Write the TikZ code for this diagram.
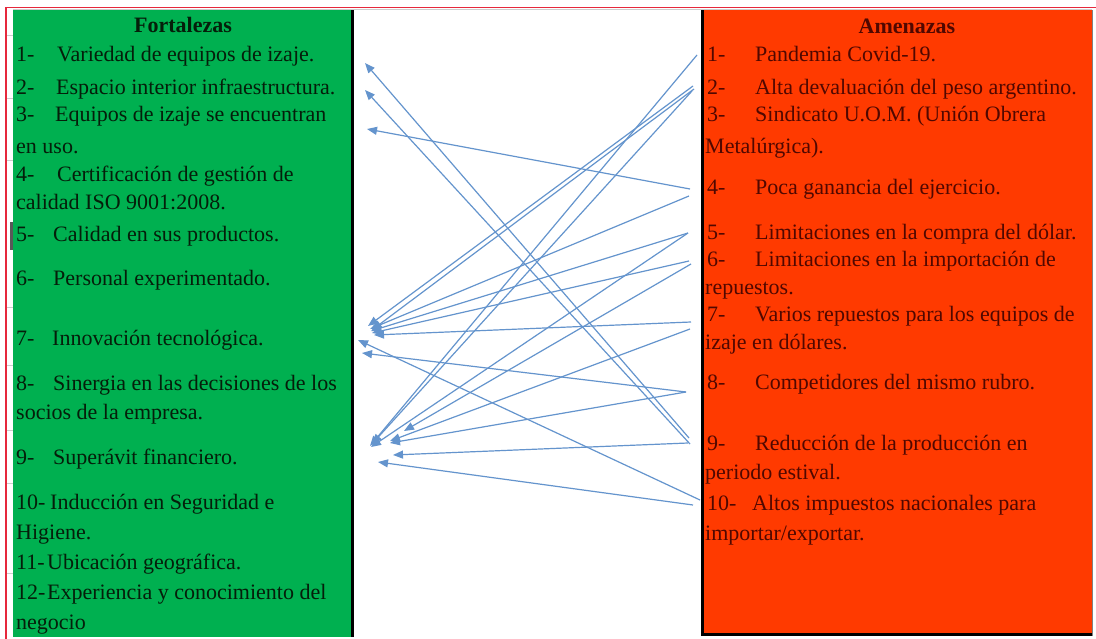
\documentclass[tikz,border=0pt]{standalone}
\usepackage{fontspec}
\setmainfont{Liberation Serif}
\usetikzlibrary{arrows.meta}
\definecolor{fgreen}{RGB}{0,176,80}
\definecolor{fred}{RGB}{255,58,0}
\definecolor{gtext}{RGB}{5,30,10}
\definecolor{rtext}{RGB}{80,8,0}
\definecolor{arrblue}{RGB}{100,148,205}
\definecolor{gridgrey}{RGB}{205,205,205}
\definecolor{edgered}{RGB}{230,40,60}
\begin{document}
\begin{tikzpicture}[x=1pt,y=-1pt,
  lt/.style={anchor=base west,inner sep=0pt,text=gtext,font=\fontsize{22}{26}\selectfont},
  rt/.style={anchor=base west,inner sep=0pt,text=rtext,font=\fontsize{22}{26}\selectfont},
  ttl/.style={anchor=base,inner sep=0pt,font=\fontsize{22}{26}\selectfont\bfseries},
  arr/.style={draw=arrblue,line width=1.2pt,-{Triangle[length=10pt,width=8pt]}},
  tick/.style={draw=gridgrey,line width=0.8pt},
]
\useasboundingbox (0,0) rectangle (1096,639);
\fill[white] (0,0) rectangle (1096,639);
% panels
\fill[fgreen] (13,10) rectangle (351,637);
\fill[fred] (704,10) rectangle (1092,634);
\draw[line width=2.5pt] (352.5,10) -- (352.5,637);
\draw[line width=3pt] (702.5,10) -- (702.5,636);
\draw[line width=2.5pt] (701,634.5) -- (1092,634.5);
\draw[gray,line width=0.6pt] (1092.5,10) -- (1092.5,636);
% sheet edges
\draw[edgered,line width=1.5pt] (6,7.5) -- (1096,7.5);
\draw[edgered,line width=1.2pt] (6,7.5) -- (6,639);
\draw[gridgrey,line width=0.6pt] (13,9.5) -- (1092,9.5);
\foreach \yy in {35,98,160,307,365,430,483,573}{\draw[tick] (7,\yy) -- (13,\yy);}
\fill[gray!70!black] (10,222) rectangle (13,250);
% Fortalezas
\node[ttl,text=gtext] (ftitle) at (183,33) {Fortalezas};
\node[lt] (f1n) at (16,62) {1-};
\node[lt] (f1) at (57,62) {Variedad de equipos de izaje.};
\node[lt] (f2n) at (16,95) {2-};
\node[lt] (f2) at (56,95) {Espacio interior infraestructura.};
\node[lt] (f3n) at (16,122) {3-};
\node[lt] (f3) at (55,122) {Equipos de izaje se encuentran};
\node[lt] (f3b) at (16,154) {en uso.};
\node[lt] (f4n) at (16,182) {4-};
\node[lt] (f4) at (57,182) {Certificación de gestión de};
\node[lt] (f4b) at (16,210) {calidad ISO 9001:2008.};
\node[lt] (f5n) at (16,242) {5-};
\node[lt] (f5) at (53,242) {Calidad en sus productos.};
\node[lt] (f6n) at (16,286) {6-};
\node[lt] (f6) at (53,286) {Personal experimentado.};
\node[lt] (f7n) at (16,345) {7-};
\node[lt] (f7) at (52,345) {Innovación tecnológica.};
\node[lt] (f8n) at (16,390) {8-};
\node[lt] (f8) at (53,390) {Sinergia en las decisiones de los};
\node[lt] (f8b) at (16,419) {socios de la empresa.};
\node[lt] (f9n) at (16,464) {9-};
\node[lt] (f9) at (53,464) {Superávit financiero.};
\node[lt] (f10n) at (16,509) {10-};
\node[lt] (f10) at (50,509) {Inducción en Seguridad e};
\node[lt] (f10b) at (16,539) {Higiene.};
\node[lt] (f11n) at (16,569) {11-};
\node[lt] (f11) at (47,569) {Ubicación geográfica.};
\node[lt] (f12n) at (16,599) {12-};
\node[lt] (f12) at (47,599) {Experiencia y conocimiento del};
\node[lt] (f12b) at (16,629) {negocio};
% Amenazas
\node[ttl,text=rtext] (atitle) at (907,34) {Amenazas};
\node[rt] (a1n) at (707,62) {1-};
\node[rt] (a1) at (755,62) {Pandemia Covid-19.};
\node[rt] (a2n) at (707,95) {2-};
\node[rt] (a2) at (755,95) {Alta devaluación del peso argentino.};
\node[rt] (a3n) at (707,122) {3-};
\node[rt] (a3) at (755,122) {Sindicato U.O.M. (Unión Obrera};
\node[rt] (a3b) at (705,154) {Metalúrgica).};
\node[rt] (a4n) at (707,195) {4-};
\node[rt] (a4) at (755,195) {Poca ganancia del ejercicio.};
\node[rt] (a5n) at (707,240) {5-};
\node[rt] (a5) at (755,240) {Limitaciones en la compra del dólar.};
\node[rt] (a6n) at (707,267) {6-};
\node[rt] (a6) at (755,267) {Limitaciones en la importación de};
\node[rt] (a6b) at (705,295) {repuestos.};
\node[rt] (a7n) at (707,322) {7-};
\node[rt] (a7) at (755,322) {Varios repuestos para los equipos de};
\node[rt] (a7b) at (705,349) {izaje en dólares.};
\node[rt] (a8n) at (707,389) {8-};
\node[rt] (a8) at (755,389) {Competidores del mismo rubro.};
\node[rt] (a9n) at (707,450) {9-};
\node[rt] (a9) at (755,450) {Reducción de la producción en};
\node[rt] (a9b) at (705,479) {periodo estival.};
\node[rt] (a10n) at (707,510) {10-};
\node[rt] (a10) at (752,510) {Altos impuestos nacionales para};
\node[rt] (a10b) at (705,540) {importar/exportar.};
% arrow ends
\coordinate (s1) at (697,55);
\coordinate (s2a) at (693,86);
\coordinate (s2b) at (694,89);
\coordinate (s2c) at (692,91);
\coordinate (s4a) at (690,189);
\coordinate (s4b) at (689,196);
\coordinate (s5) at (688,233);
\coordinate (s6a) at (689,261);
\coordinate (s6b) at (691,264);
\coordinate (s7a) at (691,322);
\coordinate (s7b) at (690,329);
\coordinate (s8) at (686,392);
\coordinate (s9a) at (689,438);
\coordinate (s9b) at (690,444);
\coordinate (s9c) at (688,443);
\coordinate (s10a) at (700,500);
\coordinate (s10b) at (693,505);
\coordinate (t1) at (365,63);
\coordinate (t2) at (365,90);
\coordinate (t3) at (367,129);
\coordinate (t7a) at (368,326);
\coordinate (t7b) at (372,330);
\coordinate (t7c) at (370,329);
\coordinate (t7d) at (371,331);
\coordinate (t7e) at (372,333);
\coordinate (t7f) at (374,335);
\coordinate (t7g) at (358,340);
\coordinate (t8) at (362,353);
\coordinate (t9a) at (370,446);
\coordinate (t9b) at (372,444);
\coordinate (t9c) at (371,447);
\coordinate (t9d) at (404,431);
\coordinate (t9e) at (390,441);
\coordinate (t9f) at (390,443);
\coordinate (t9g) at (393,455);
\coordinate (t9h) at (378,462);
% arrows
\draw[arr] (s1) -- (t9a);
\draw[arr] (s2a) -- (t7a);
\draw[arr] (s2b) -- (t7b);
\draw[arr] (s2c) -- (t9b);
\draw[arr] (s4a) -- (t3);
\draw[arr] (s4b) -- (t7c);
\draw[arr] (s5) -- (t7d);
\draw[arr] (s5) -- (t9c);
\draw[arr] (s6a) -- (t7e);
\draw[arr] (s6b) -- (t9d);
\draw[arr] (s7a) -- (t7f);
\draw[arr] (s7b) -- (t9e);
\draw[arr] (s8) -- (t8);
\draw[arr] (s8) -- (t9f);
\draw[arr] (s9a) -- (t1);
\draw[arr] (s9b) -- (t2);
\draw[arr] (s9c) -- (t9g);
\draw[arr] (s10a) -- (t7g);
\draw[arr] (s10b) -- (t9h);
\end{tikzpicture}
\end{document}
